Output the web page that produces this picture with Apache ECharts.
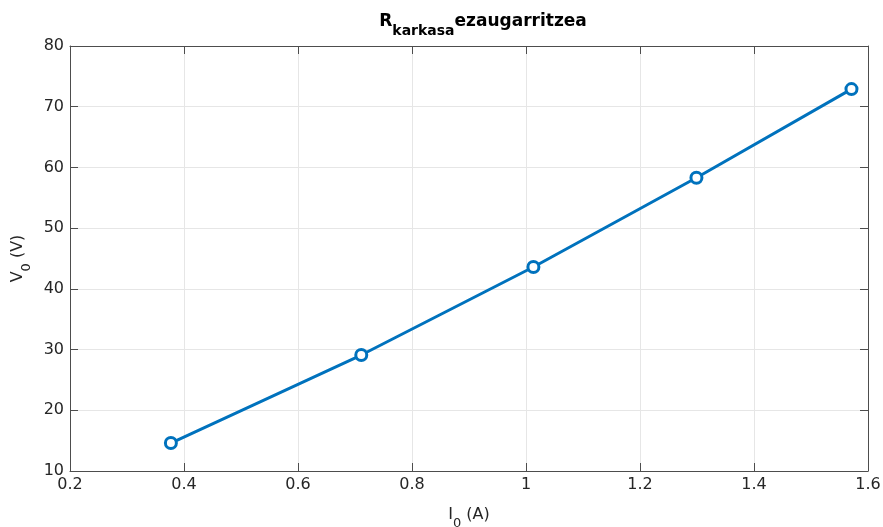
<!DOCTYPE html>
<html>
<head>
<meta charset="utf-8">
<script src="https://cdn.jsdelivr.net/npm/echarts@6/dist/echarts.min.js"></script>
<style>
  html, body { margin: 0; padding: 0; background: #fff; }
  #chart { width: 883px; height: 527px; }
</style>
</head>
<body>
<div id="chart"></div>
<script>
// Measured current and voltage for the frame resistance characterisation
const current = [0.377, 0.711, 1.013, 1.299, 1.571];
const voltage = [14.6, 29.1, 43.6, 58.3, 72.9];

const xTicks = { min: 0.2, max: 1.6, interval: 0.2 };
const yTicks = { min: 10, max: 80, interval: 10 };

const FONT = "'DejaVu Sans', Verdana, sans-serif";
const INK = '#262626';
const AXIS = '#4d4d4d';

const chart = echarts.init(document.getElementById('chart'), null, { renderer: 'canvas' });

const points = current.map((c, i) => [c, voltage[i]]);

const boxAxis = {
  show: true,
  axisLine: { show: true, onZero: false, lineStyle: { color: AXIS, width: 1 } },
  axisTick: { show: true, inside: true, length: 8, lineStyle: { color: AXIS, width: 1 } },
  axisLabel: { show: false },
  splitLine: { show: false }
};

chart.setOption({
  animation: false,
  backgroundColor: '#ffffff',
  title: {
    text: '{r|R}{s|karkasa}{r|ezaugarritzea}',
    left: 478,
    textAlign: 'center',
    top: 8,
    textStyle: {
      rich: {
        r: { fontFamily: FONT, fontWeight: 'bold', fontSize: 17, color: '#000', lineHeight: 20, verticalAlign: 'top' },
        s: { fontFamily: FONT, fontWeight: 'bold', fontSize: 14, color: '#000', padding: [11, 0, 0, 0], verticalAlign: 'top' }
      }
    }
  },
  grid: { left: 70, right: 15, top: 46, bottom: 56, containLabel: false, outerBoundsMode: 'none' },
  xAxis: [
    {
      type: 'value',
      min: xTicks.min, max: xTicks.max, interval: xTicks.interval,
      position: 'bottom',
      name: '{n|I}{s|0}{n| (A)}',
      nameLocation: 'middle',
      nameGap: 36,
      nameTextStyle: {
        rich: {
          n: { fontFamily: FONT, fontSize: 16, color: INK, verticalAlign: 'top', lineHeight: 19 },
          s: { fontFamily: FONT, fontSize: 13, color: INK, verticalAlign: 'top', padding: [10, 0, 0, 0] }
        }
      },
      axisLine: { show: true, onZero: false, lineStyle: { color: AXIS, width: 1 } },
      axisTick: { show: true, inside: true, length: 8, lineStyle: { color: AXIS } },
      axisLabel: {
        fontFamily: FONT, fontSize: 16, color: INK, margin: 6,
        formatter: v => String(Math.round(v * 10) / 10)
      },
      splitLine: { show: true, lineStyle: { color: '#e6e6e6', width: 1 } }
    },
    Object.assign({ type: 'value', min: xTicks.min, max: xTicks.max, interval: xTicks.interval, position: 'top' }, boxAxis)
  ],
  yAxis: [
    {
      type: 'value',
      min: yTicks.min, max: yTicks.max, interval: yTicks.interval,
      position: 'left',
      name: '{n|V}{s|0}{n| (V)}',
      nameLocation: 'middle',
      nameGap: 37,
      nameRotate: 90,
      nameTextStyle: {
        rich: {
          n: { fontFamily: FONT, fontSize: 16, color: INK, verticalAlign: 'top', lineHeight: 19 },
          s: { fontFamily: FONT, fontSize: 13, color: INK, verticalAlign: 'top', padding: [10, 0, 0, 0] }
        }
      },
      axisLine: { show: true, onZero: false, lineStyle: { color: AXIS, width: 1 } },
      axisTick: { show: true, inside: true, length: 8, lineStyle: { color: AXIS } },
      axisLabel: { fontFamily: FONT, fontSize: 16, color: INK, margin: 6 },
      splitLine: { show: true, lineStyle: { color: '#e6e6e6', width: 1 } }
    },
    Object.assign({ type: 'value', min: yTicks.min, max: yTicks.max, interval: yTicks.interval, position: 'right' }, boxAxis)
  ],
  series: [
    {
      type: 'line',
      data: points,
      xAxisIndex: 0,
      yAxisIndex: 0,
      symbol: 'circle',
      symbolSize: 11,
      showAllSymbol: true,
      lineStyle: { color: '#0072BD', width: 3 },
      itemStyle: { color: '#ffffff', borderColor: '#0072BD', borderWidth: 3 },
      z: 3
    }
  ]
});
</script>
</body>
</html>
